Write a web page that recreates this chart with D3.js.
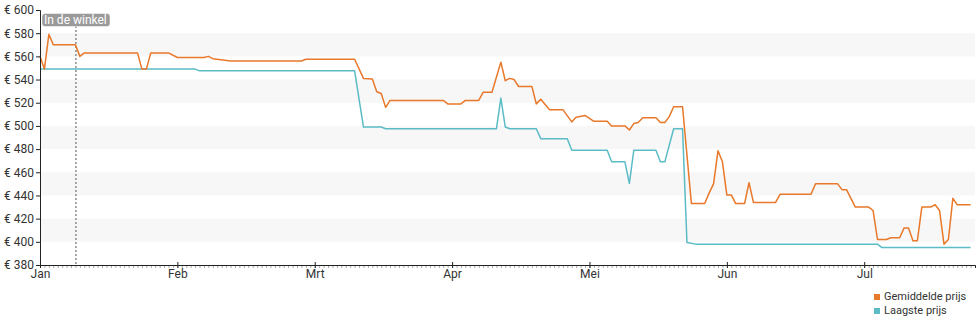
<!DOCTYPE html>
<html><head><meta charset="utf-8">
<script src="https://cdn.jsdelivr.net/npm/d3@7"></script>
<style>body{margin:0;background:#fff;font-family:Roboto,"Noto Sans",sans-serif;}</style>
</head><body><svg id="c" width="980" height="325"></svg>
<script>
const monthLabels = ["Jan","Feb","Mrt","Apr","Mei","Jun","Jul"];
const yTicks = [380,400,420,440,460,480,500,520,540,560,580,600];
const bandRanges = [[560,580],[520,540],[480,500],[440,460],[400,420]];
const seriesNames = ["Gemiddelde prijs","Laagste prijs"];
const markerDay = 8;
const markerLabel = "In de winkel";
// [day index, price]
const gemiddelde = [[0,560],[1,549],[2,579],[3,570],[8,570],[9,560],[10,563],[22,563],[23,549],[24,549],[25,563],[29,563],[31,559],[37,559],[38,560],[39,558],[43,556],[59,556],[60,557.5],[71,557.5],[73,541],[75,540.5],[76,529.5],[77,528],[78,516],[79,522],[91,522],[92,519],[95,519],[96,522],[99,522],[100,529],[102,529],[104,555],[105,539],[106,541],[107,540],[108,534],[111,534],[112,519],[113,523],[115,514],[118,514],[120,503.5],[121,507.5],[123,509],[125,504],[128,504],[129,500],[132,500],[133,496.5],[134,502],[135,503],[136,507],[139,507],[140,503],[141,503],[142,508],[143,516.5],[145,516.5],[147,433],[150,433],[151,442],[152,450],[153,478.5],[154,469],[155,440.5],[156,440.5],[157,433],[159,433],[160,451],[161,434],[166,434],[167,441],[174,441],[175,450],[180,450],[181,445],[182,445],[184,430],[187,430],[188,427],[189,402],[191,402],[192,403.5],[194,403.5],[195,412],[196,412],[197,401],[198,401],[199,430],[201,430],[202,432],[203,427],[204,398],[205,402],[206,437.5],[207,432],[210,432]];
const laagste = [[0,549],[35,549],[36,547.5],[71,547.5],[73,499],[77,499],[78,497.5],[103,497.5],[104,524],[105,499],[106,497.5],[112,497.5],[113,489],[119,489],[120,479],[128,479],[129,469],[132,469],[133,450.5],[134,479],[139,479],[140,469],[141,469],[143,497.5],[145,497.5],[146,399.5],[148,398],[189,398],[190,395],[210,395]];
const colors = ["#e8782a","#5bbcc6"];

const svg = d3.select("#c");
const x = d3.scaleLinear().domain([0,211]).range([40,975]);
const y = d3.scaleLinear().domain([380,600]).range([265,10]);

// bands
svg.append("g").selectAll("rect").data(bandRanges).join("rect")
  .attr("x", x(0)).attr("width", x(211)-x(0))
  .attr("y", d=>y(d[1])).attr("height", d=>y(d[0])-y(d[1]))
  .attr("fill","#f7f7f7");

// marker line
svg.append("line").attr("x1",x(markerDay)+0.5).attr("x2",x(markerDay)+0.5)
  .attr("y1",14).attr("y2",y(380)).attr("stroke","#555").attr("stroke-width",1).attr("stroke-dasharray","2,2");

const line = d3.line().x(d=>x(d[0])).y(d=>y(d[1]));
[laagste, gemiddelde].forEach((s,i)=>{
  svg.append("path").datum(s).attr("d",line).attr("fill","none")
    .attr("stroke", colors[1-i]).attr("stroke-width",1.5).attr("stroke-linejoin","round");
});

// marker label
const lg = svg.append("g");
lg.append("rect").attr("x",42).attr("y",13.5).attr("width",68).attr("height",13).attr("rx",3)
  .attr("fill","#9a9a9a").attr("stroke","#fff").attr("stroke-width",0.5);
lg.append("text").attr("x",44).attr("y",24).attr("fill","#fff").attr("font-size",12).text(markerLabel);

// y axis
const yAxis = svg.append("g").attr("transform","translate(40,0)")
  .call(d3.axisLeft(y).tickValues(yTicks).tickSize(4).tickPadding(2).tickFormat(d=>"€ "+d));
yAxis.select(".domain").attr("stroke","#222");
yAxis.selectAll(".tick line").attr("stroke","#222");
yAxis.selectAll("text").attr("font-size",12).attr("fill","#333").attr("font-family","Roboto");

// x minor ticks
const days = d3.range(0,212);
svg.append("g").selectAll("line").data(days).join("line")
  .attr("x1",d=>x(d)+0.5).attr("x2",d=>x(d)+0.5).attr("y1",265).attr("y2",268)
  .attr("stroke","#aaa").attr("stroke-width",1);

// x axis
const monthDays = monthLabels.map((m,i)=>i*31);
const xAxis = svg.append("g").attr("transform","translate(0,265)")
  .call(d3.axisBottom(x).tickValues(monthDays).tickSize(3).tickPadding(1).tickFormat((d,i)=>monthLabels[i]));
xAxis.select(".domain").attr("stroke","#222");
xAxis.selectAll(".tick line").attr("stroke","#222").attr("y1",-3);
xAxis.selectAll("text").attr("font-size",12).attr("fill","#333").attr("font-family","Roboto");

// legend
const leg = svg.append("g");
seriesNames.forEach((n,i)=>{
  leg.append("rect").attr("x",874).attr("y",294+i*14).attr("width",6).attr("height",6).attr("fill",colors[i]);
  leg.append("text").attr("x",884).attr("y",300+i*14).attr("font-size",11).attr("fill","#333").text(n);
});
</script></body></html>
